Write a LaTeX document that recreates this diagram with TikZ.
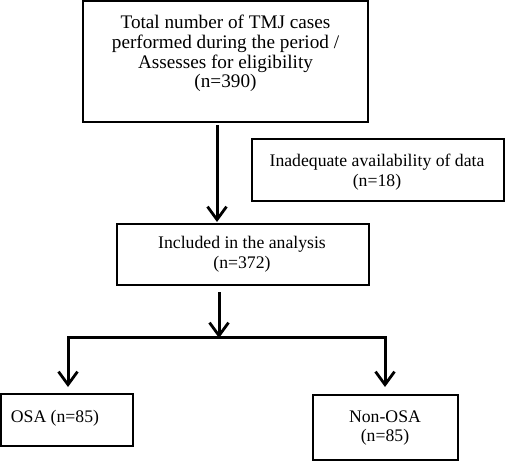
\documentclass[tikz,border=0pt]{standalone}
\usepackage{fontspec}
\setmainfont{Liberation Serif}
\usetikzlibrary{arrows.meta}
\begin{document}
\begin{tikzpicture}[x=1pt,y=-1pt,
  box/.style={draw, line width=1.3pt, inner sep=0pt},
  txt/.style={align=center, inner sep=0pt, font=\fontsize{17.7}{19.6}\selectfont},
  bigtxt/.style={txt, font=\fontsize{19.2}{19.7}\selectfont},
  thick line/.style={line width=3pt},
  arr/.style={line width=3pt, -{Straight Barb[length=13pt,width=19pt,line width=2.8pt]}}]
\useasboundingbox (0,0) rectangle (505,461);
% boxes
\node[box, minimum width=285pt, minimum height=121pt] (b1) at (225.5,61.5) {};
\node[bigtxt] (t1) at (225.5,53.5) {Total number of TMJ cases\\performed during the period /\\Assesses for eligibility\\(n=390)};
\node[box, minimum width=252pt, minimum height=62pt] (b2) at (378,170) {};
\node[txt] (t2) at (377,172) {Inadequate availability of data\\(n=18)};
\node[box, minimum width=252pt, minimum height=61pt] (b3) at (243,254.5) {};
\node[txt] (t3) at (242,254.5) {Included in the analysis\\(n=372)};
\node[box, minimum width=132pt, minimum height=52pt] (b4) at (67,420) {};
\node[txt] (t4) at (55,418) {OSA (n=85)};
\node[box, minimum width=145pt, minimum height=65pt] (b5) at (385.5,427.5) {};
\node[txt] (t5) at (385,428) {Non-OSA\\(n=85)};
% connectors
\coordinate (s1) at (217,125);
\coordinate (e1) at (217,222);
\coordinate (s2) at (219,292);
\coordinate (j) at (219,338);
\coordinate (jl) at (68,337);
\coordinate (jr) at (385,337);
\coordinate (el) at (68,387);
\coordinate (er) at (385,387);
\draw[arr] (s1) -- (e1);
\draw[arr] (s2) -- (j);
\draw[thick line, line cap=rect] (jl) -- (jr);
\draw[arr] (jl) -- (el);
\draw[arr] (jr) -- (er);
\end{tikzpicture}
\end{document}
